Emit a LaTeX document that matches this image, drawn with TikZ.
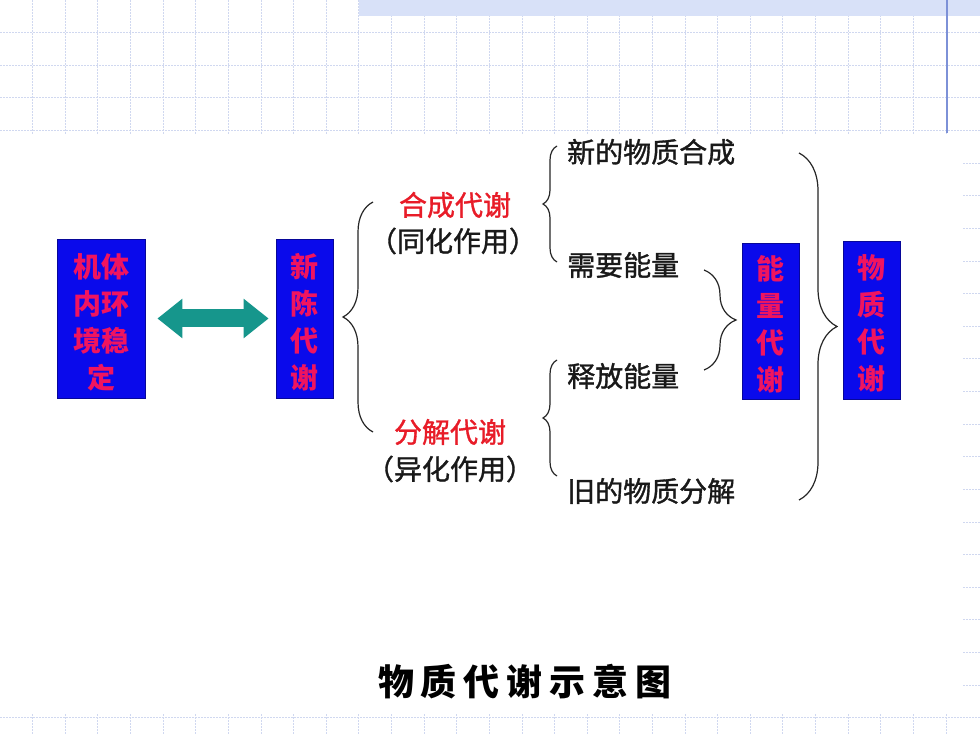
\documentclass[tikz,border=0pt]{standalone}
\usepackage{fontspec}
\newfontfamily\cjk{Noto Sans CJK SC}
\newfontfamily\cjkmed{Noto Sans CJK SC}[FakeBold=1.2]
\usetikzlibrary{arrows.meta,decorations.pathreplacing}
\definecolor{gridc}{RGB}{208,216,240}
\definecolor{bandc}{RGB}{216,225,248}
\definecolor{vlinec}{RGB}{125,145,215}
\definecolor{boxblue}{RGB}{10,10,235}
\definecolor{boxred}{RGB}{240,20,95}
\definecolor{labred}{RGB}{232,28,40}
\definecolor{arrowteal}{RGB}{22,150,140}
\newcommand{\topstrut}{\rule{0pt}{31pt}}
\tikzset{
  gridline/.style={gridc, line width=0.8pt, dash pattern=on 2pt off 1pt},
  vbox/.style={rectangle, fill=boxblue, draw=boxblue!65!black, line width=0.8pt,
    inner sep=0pt, minimum height=159pt, text=boxred,
    font=\cjk\bfseries\fontsize{28}{37}\selectfont, align=center},
  lab/.style={font=\cjkmed\fontsize{28}{32}\selectfont, inner sep=0pt, text=black!90},
  redlab/.style={lab, text=labred},
  brc/.style={decorate, decoration={brace, amplitude=#1}, line width=1.2pt, black!85},
  dblarrow/.style={arrowteal, line width=18pt,
    {Triangle[width=38pt,length=25pt]}-{Triangle[width=38pt,length=25pt]}}
}
\begin{document}
\begin{tikzpicture}[x=1pt,y=-1pt]
\useasboundingbox (0,0) rectangle (980,735);
\fill[white] (0,0) rectangle (980,735);
% background grid
\foreach \i in {1,...,29} \draw[gridline] ({32.62*\i},0) -- ({32.62*\i},735);
\foreach \j in {1,...,22} \draw[gridline] (0,{32.62*\j}) -- (980,{32.62*\j});
\fill[white] (0,134) rectangle (962,713);
\fill[bandc] (359,0) rectangle (980,16);
\draw[vlinec, line width=1.2pt] (947,0) -- (947,133);

% boxes
\node[vbox, minimum width=88pt] (b1) at (101,318.5) {\topstrut 机体\\内环\\境稳\\定};
\node[vbox, minimum width=57pt] (b2) at (304.5,318.5) {\topstrut 新\\陈\\代\\谢};
\node[vbox, minimum width=57pt, minimum height=156pt] (b3) at (770.5,321) {\topstrut 能\\量\\代\\谢};
\node[vbox, minimum width=57pt, minimum height=158pt] (b4) at (871.5,320) {\topstrut 物\\质\\代\\谢};

% double arrow
\draw[dblarrow, shorten <=12pt, shorten >=7pt] (b1) -- (b2);

% braces
\draw[brc=30pt] (373,432) -- (373,202);
\draw[brc=14pt] (557,262) -- (557,146);
\draw[brc=14pt] (557,476) -- (557,360);
\draw[brc=32pt] (704,270) -- (704,370);
\draw[brc=38pt] (799,153) -- (799,500);

% labels
\node[redlab] (ana) at (455,205) {合成代谢};
\node[lab] (ana2) at (453,241) {（同化作用）};
\node[redlab] (cat) at (450,432) {分解代谢};
\node[lab] (cat2) at (450,469) {（异化作用）};
\node[lab, anchor=west] (r1) at (567,152) {新的物质合成};
\node[lab, anchor=west] (r2) at (567,265) {需要能量};
\node[lab, anchor=west] (r3) at (567,376) {释放能量};
\node[lab, anchor=west] (r4) at (567,491) {旧的物质分解};

% title
\node[font=\cjk\bfseries\fontsize{36}{40}\selectfont, inner sep=0pt] (title) at (525,682)
  {物\hspace{7pt}质\hspace{7pt}代\hspace{7pt}谢\hspace{7pt}示\hspace{7pt}意\hspace{7pt}图};
\end{tikzpicture}
\end{document}
